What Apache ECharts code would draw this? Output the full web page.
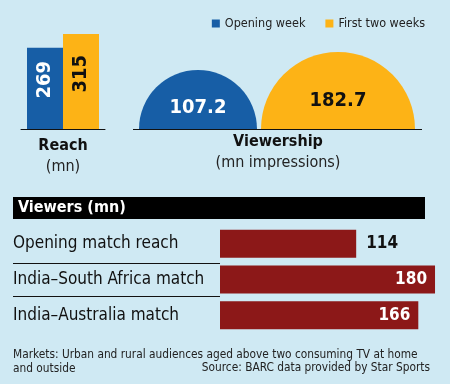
<!DOCTYPE html>
<html><head><meta charset="utf-8">
<script src="https://cdn.jsdelivr.net/npm/echarts@6/dist/echarts.min.js"></script>
<style>html,body{margin:0;padding:0;background:#cfe9f3;}#c{width:450px;height:384px;}</style>
</head><body><div id="c"></div>
<script>
const legendNames = ['Opening week', 'First two weeks'];
const reachCats = ['Reach'];
const reachValues = [269, 315];
const viewershipValues = [107.2, 182.7];
const matchCats = ['Opening match reach', 'India–South Africa match', 'India–Australia match'];
const matchViewers = [114, 180, 166];

const FONT = '"Liberation Sans Narrow","DejaVu Sans Condensed",sans-serif';
const BLUE = '#175ea6', ORANGE = '#fdb316', RED = '#8c1818', BG = '#cfe9f3';
const colors = [BLUE, ORANGE];

const chart = echarts.init(document.getElementById('c'));

// semicircle sizes: area proportional to value
const rMax = 77;
const vMax = Math.max(...viewershipValues);
const semiCenters = [198, 338];
const baseY = 129;
const pieSeries = viewershipValues.map((v, i) => {
  const r = rMax * Math.sqrt(v / vMax);
  return {
    type: 'pie', silent: true, animation: false,
    center: [semiCenters[i], baseY], radius: [0, r],
    startAngle: 180, clockwise: true,
    label: { show: false },
    labelLine: { show: false },
    data: [
      { value: 1, name: legendNames[i], itemStyle: { color: colors[i] },
        label: { show: true, position: 'center', formatter: String(v), offset: [0, -r * 0.36],
          color: i === 0 ? '#fff' : '#111', fontFamily: FONT, fontWeight: 'bold', fontSize: 20 } },
      { value: 1, name: '_hidden' + i, itemStyle: { color: 'rgba(0,0,0,0)' }, label: { show: false } }
    ]
  };
});

chart.setOption({
  backgroundColor: BG,
  textStyle: { fontFamily: FONT },
  legend: {
    data: legendNames, right: 20, top: 12, itemWidth: 8, itemHeight: 8, itemGap: 20,
    icon: 'rect', textStyle: { fontFamily: FONT, fontSize: 12.5, color: '#222' }
  },
  grid: [
    { left: 21, width: 84, top: 34, height: 95 },
    { left: 220, top: 226, width: 221, height: 107 }
  ],
  xAxis: [
    { gridIndex: 0, type: 'category', data: reachCats,
      axisLine: { lineStyle: { color: '#111', width: 1 } }, axisTick: { show: false },
      axisLabel: { margin: 6, formatter: v => '{b|' + v + '}\n{n|(mn)}',
        rich: { b: { fontFamily: FONT, fontWeight: 'bold', fontSize: 16, color: '#111', lineHeight: 21 },
                n: { fontFamily: FONT, fontSize: 16, color: '#222', lineHeight: 21 } } } },
    { gridIndex: 1, type: 'value', min: 0, max: 185, show: false }
  ],
  yAxis: [
    { gridIndex: 0, type: 'value', min: 0, max: 315, show: false },
    { gridIndex: 1, type: 'category', data: matchCats, inverse: true,
      axisLine: { show: false }, axisTick: { show: false },
      axisLabel: { align: 'left', margin: 207, fontFamily: FONT, fontSize: 17, color: '#111' } }
  ],
  series: [
    { type: 'bar', name: legendNames[0], xAxisIndex: 0, yAxisIndex: 0, barWidth: 36, barGap: '0%',
      itemStyle: { color: BLUE }, data: [reachValues[0]], animation: false,
      label: { show: true, position: 'insideTop', distance: 13, rotate: 90, align: 'right', verticalAlign: 'middle',
        color: '#fff', fontFamily: FONT, fontWeight: 'bold', fontSize: 20 } },
    { type: 'bar', name: legendNames[1], xAxisIndex: 0, yAxisIndex: 0, barWidth: 36, barGap: '0%',
      itemStyle: { color: ORANGE }, data: [reachValues[1]], animation: false,
      label: { show: true, position: 'insideTop', distance: 21, rotate: 90, align: 'right', verticalAlign: 'middle',
        color: '#111', fontFamily: FONT, fontWeight: 'bold', fontSize: 20 } },
    { type: 'bar', xAxisIndex: 1, yAxisIndex: 1, barWidth: 28, animation: false,
      itemStyle: { color: RED },
      data: matchViewers.map((v, i) => i === 0
        ? { value: v, label: { show: true, position: 'right', distance: 10, color: '#111' } }
        : { value: v, label: { show: true, position: 'insideRight', distance: 8, color: '#fff' } }),
      label: { fontFamily: FONT, fontWeight: 'bold', fontSize: 17 } },
    ...pieSeries
  ],
  graphic: [
    { type: 'line', shape: { x1: 133, y1: baseY + 0.5, x2: 422, y2: baseY + 0.5 }, style: { stroke: '#111', lineWidth: 1 } },
    { type: 'text', x: 278, y: 134, style: { text: 'Viewership', fontFamily: FONT, fontWeight: 'bold', fontSize: 16, fill: '#111', textAlign: 'center' } },
    { type: 'text', x: 278, y: 155, style: { text: '(mn impressions)', fontFamily: FONT, fontSize: 16, fill: '#222', textAlign: 'center' } },
    { type: 'rect', shape: { x: 13, y: 197, width: 412, height: 22 }, style: { fill: '#000' } },
    { type: 'text', x: 18, y: 208, style: { text: 'Viewers (mn)', fontFamily: FONT, fontWeight: 'bold', fontSize: 16, fill: '#fff', textVerticalAlign: 'middle' } },
    { type: 'line', shape: { x1: 13, y1: 263.5, x2: 220, y2: 263.5 }, style: { stroke: '#111', lineWidth: 1 } },
    { type: 'line', shape: { x1: 13, y1: 296.5, x2: 220, y2: 296.5 }, style: { stroke: '#111', lineWidth: 1 } },
    { type: 'text', x: 13, y: 348, style: { text: 'Markets: Urban and rural audiences aged above two consuming TV at home\nand outside', fontFamily: FONT, fontSize: 11.8, lineHeight: 14, fill: '#222' } },
    { type: 'text', x: 430, y: 362, style: { text: 'Source: BARC data provided by Star Sports', fontFamily: FONT, fontSize: 11.8, fill: '#222', textAlign: 'right' } }
  ]
});
</script></body></html>
